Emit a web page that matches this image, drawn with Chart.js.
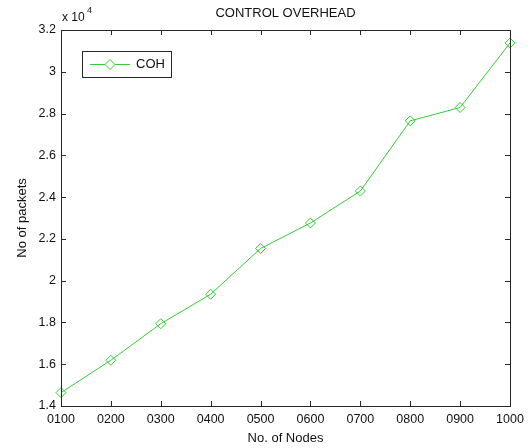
<!DOCTYPE html>
<html>
<head>
<meta charset="utf-8">
<script src="https://cdn.jsdelivr.net/npm/chart.js@4.4.0/dist/chart.umd.min.js"></script>
<style>
    html, body { margin: 0; padding: 0; background: #fff; }
    #area { width: 531px; height: 448px; }
</style>
</head>
<body>
<div id="area"><canvas id="grafico"></canvas></div>
<script>

// dados
const nos = ['0100', '0200', '0300', '0400', '0500', '0600', '0700', '0800', '0900', '1000'];
const pacotes = [14640, 16190, 17940, 19350, 21540, 22760, 24290, 27650, 28290, 31380];
const nome_serie = 'COH';
const titulo = 'CONTROL OVERHEAD';
const rotulo_x = 'No. of Nodes';
const rotulo_y = 'No of packets';
const expoente = 4;

const FONTE = '"Liberation Sans", Arial, sans-serif';
const VERDE = '#33cc33';
const EIXO = '#262626';


//***********************
//Caixa estilo matlab: borda, marcas para dentro, titulo, legenda
//***********************
const caixa_matlab = {
    id: 'caixa_matlab',
    afterDraw(chart) {
        const ctx = chart.ctx;
        const a = chart.chartArea;
        const sx = chart.scales.x;
        const sy = chart.scales.y;

        ctx.save();
        ctx.strokeStyle = EIXO;
        ctx.lineWidth = 1;
        ctx.strokeRect(Math.round(a.left) + 0.5, Math.round(a.top) + 0.5,
                       Math.round(a.right - a.left), Math.round(a.bottom - a.top));

        // marcas do eixo x (baixo e cima)
        ctx.beginPath();
        sx.ticks.forEach((t, i) => {
            const x = Math.round(sx.getPixelForTick(i)) + 0.5;
            ctx.moveTo(x, a.bottom); ctx.lineTo(x, a.bottom - 5);
            ctx.moveTo(x, a.top); ctx.lineTo(x, a.top + 5);
        });
        // marcas do eixo y (esquerda e direita)
        sy.ticks.forEach((t, i) => {
            const y = Math.round(sy.getPixelForTick(i)) + 0.5;
            ctx.moveTo(a.left, y); ctx.lineTo(a.left + 5, y);
            ctx.moveTo(a.right, y); ctx.lineTo(a.right - 5, y);
        });
        ctx.stroke();

        // titulo
        ctx.fillStyle = '#111';
        ctx.font = '13px ' + FONTE;
        ctx.textAlign = 'center';
        ctx.textBaseline = 'middle';
        ctx.fillText(titulo, (a.left + a.right) / 2, 13);

        // multiplicador x 10^4
        ctx.textAlign = 'left';
        ctx.font = '12px ' + FONTE;
        ctx.fillText('x 10', a.left + 1, 18);
        ctx.font = '9px ' + FONTE;
        ctx.fillText(String(expoente), a.left + 26, 11);

        // legenda
        const ds = chart.data.datasets[0];
        const lx = 82, ly = 51, lw = 89, lh = 26;
        ctx.fillStyle = '#fff';
        ctx.fillRect(lx, ly, lw, lh);
        ctx.strokeStyle = EIXO;
        ctx.strokeRect(lx + 0.5, ly + 0.5, lw, lh);
        const my = ly + lh / 2 + 0.5;
        ctx.strokeStyle = ds.borderColor;
        ctx.beginPath();
        ctx.moveTo(lx + 8, my); ctx.lineTo(lx + 48, my);
        ctx.stroke();
        Chart.helpers.drawPoint(ctx, {pointStyle: 'rectRot', radius: 5, borderWidth: 1}, lx + 28, my);
        ctx.fillStyle = '#111';
        ctx.font = '13px ' + FONTE;
        ctx.textBaseline = 'middle';
        ctx.fillText(ds.label, lx + 54, my);
        ctx.restore();
    }
};


const grafico = new Chart(document.getElementById('grafico'), {
    type: 'line',
    data: {
        labels: nos,
        datasets: [{
            label: nome_serie,
            data: pacotes,
            borderColor: VERDE,
            borderWidth: 1,
            backgroundColor: 'transparent',
            pointStyle: 'rectRot',
            pointRadius: 5,
            pointBorderWidth: 1,
            pointBorderColor: VERDE,
            pointBackgroundColor: 'transparent',
            tension: 0
        }]
    },
    options: {
        responsive: true,
        maintainAspectRatio: false,
        animation: false,
        layout: { padding: { left: 11, top: 30, right: 21, bottom: 0 } },
        plugins: {
            legend: { display: false },
            title: { display: false },
            tooltip: { enabled: false }
        },
        scales: {
            x: {
                type: 'category',
                offset: false,
                grid: { display: false, drawTicks: false },
                border: { display: false },
                ticks: {
                    color: '#111',
                    font: { family: FONTE, size: 12.5 },
                    padding: 6,
                    maxRotation: 0,
                    autoSkip: false
                },
                title: {
                    display: true,
                    text: rotulo_x,
                    color: '#111',
                    font: { family: FONTE, size: 13 },
                    padding: { top: 4, bottom: 2 }
                },
                afterFit: (escala) => { escala.height = 42; }
            },
            y: {
                min: 14000,
                max: 32000,
                grid: { display: false, drawTicks: false },
                border: { display: false },
                ticks: {
                    stepSize: 2000,
                    color: '#111',
                    font: { family: FONTE, size: 12.5 },
                    padding: 5,
                    callback: (v) => String(Number((v / Math.pow(10, expoente)).toFixed(1)))
                },
                title: {
                    display: true,
                    text: rotulo_y,
                    color: '#111',
                    font: { family: FONTE, size: 13 },
                    padding: { top: 4, bottom: 4 }
                },
                afterFit: (escala) => { escala.width = 50; }
            }
        }
    },
    plugins: [caixa_matlab]
});

</script>
</body>
</html>
